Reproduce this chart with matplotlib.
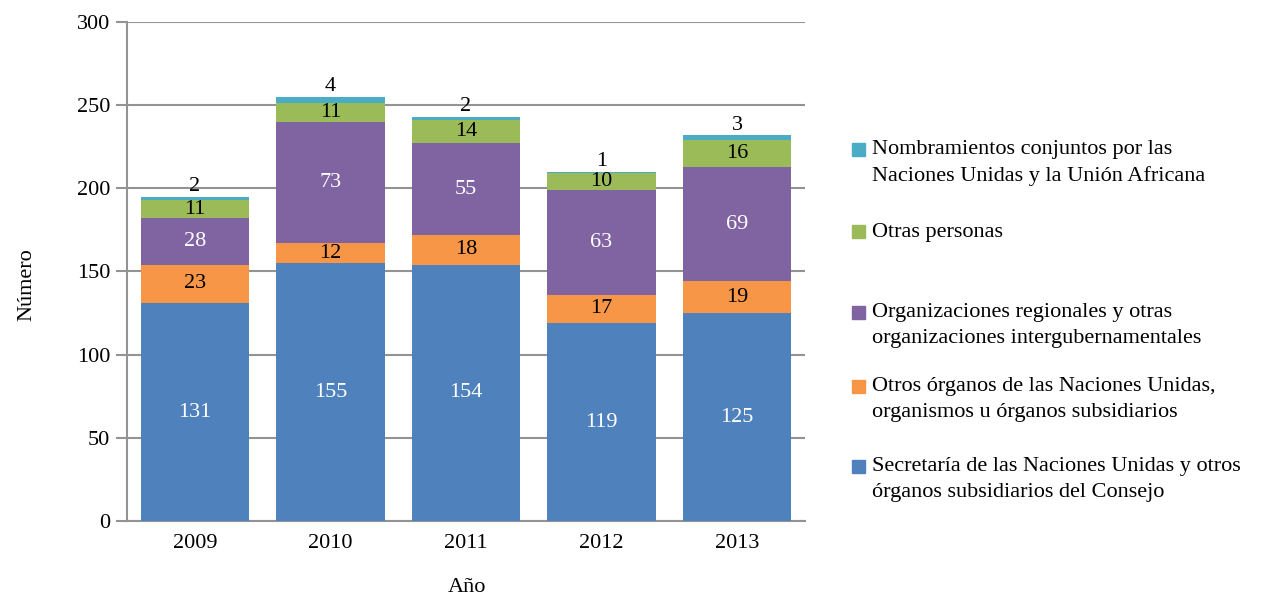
import matplotlib.pyplot as plt
from matplotlib.patches import Rectangle

plt.rcParams['font.family'] = ['Liberation Serif', 'DejaVu Serif']

years = ["2009", "2010", "2011", "2012", "2013"]
secretaria = [131, 155, 154, 119, 125]
otros_organos = [23, 12, 18, 17, 19]
org_regionales = [28, 73, 55, 63, 69]
otras_personas = [11, 11, 14, 10, 16]
conjuntos = [2, 4, 2, 1, 3]

series = [
    (secretaria, "#4F81BD", "white",
     "Secretaría de las Naciones Unidas y otros\nórganos subsidiarios del Consejo"),
    (otros_organos, "#F79646", "black",
     "Otros órganos de las Naciones Unidas,\norganismos u órganos subsidiarios"),
    (org_regionales, "#8064A2", "white",
     "Organizaciones regionales y otras\norganizaciones intergubernamentales"),
    (otras_personas, "#9BBB59", "black", "Otras personas"),
    (conjuntos, "#4BACC6", "black",
     "Nombramientos conjuntos por las\nNaciones Unidas y la Unión Africana"),
]

FS = 16

fig = plt.figure(figsize=(12.66, 5.99), dpi=100)
ax = fig.add_axes([0.1003, 0.1302, 0.5355, 0.8331])

x = list(range(len(years)))
bottom = [0] * len(years)
for i, (vals, col, tcol, lab) in enumerate(series):
    ax.bar(x, vals, 0.8, bottom=bottom, color=col, zorder=3)
    for j, v in enumerate(vals):
        if i == len(series) - 1:
            ax.text(j, bottom[j] + v + 0.3, str(v), ha="center", va="bottom",
                    fontsize=FS, color=tcol, zorder=4)
        else:
            ax.text(j, bottom[j] + v / 2, str(v), ha="center", va="center",
                    fontsize=FS, color=tcol, zorder=4)
    bottom = [b + v for b, v in zip(bottom, vals)]

ax.set_xlim(-0.5, 4.5)
ax.set_ylim(0, 300)
ax.set_yticks(range(0, 301, 50))
ax.set_xticks(x)
ax.set_xticklabels(years)
ax.yaxis.grid(True, color="#939393", linewidth=1.5, zorder=0)
for s in ["top", "right"]:
    ax.spines[s].set_visible(False)
for s in ["left", "bottom"]:
    ax.spines[s].set_color("#939393")
    ax.spines[s].set_linewidth(1.5)
ax.tick_params(axis="y", length=8, width=1.5, color="#939393", labelsize=FS, pad=4)
ax.tick_params(axis="x", length=0, labelsize=FS, pad=9)

fig.text(27 / 1266, 1 - 285 / 599, "Número", rotation=90, ha="center", va="center", fontsize=FS)
fig.text(467 / 1266, 1 - 588 / 599, "Año", ha="center", va="center", fontsize=FS)

# legend placed by hand to match irregular spacing
leg_y = [480, 400, 326, 232, 163]
for (vals, col, tcol, lab), yy in zip(series, leg_y):
    nlines = lab.count("\n") + 1
    fig.patches.append(Rectangle((852 / 1266, 1 - (yy + 6 - (nlines - 1) * 13) / 599),
                                 13 / 1266, 13 / 599, transform=fig.transFigure,
                                 color=col))
    fig.text(872 / 1266, 1 - yy / 599, lab, ha="left", va="center", fontsize=FS,
             linespacing=1.5)

fig.savefig("out.png", dpi=100)
